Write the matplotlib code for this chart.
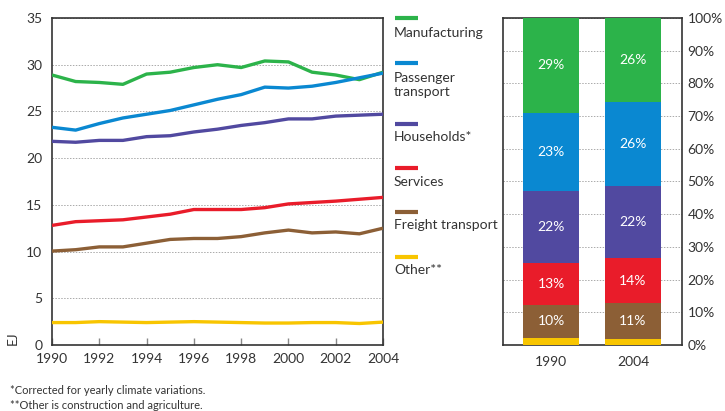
import numpy as np
import matplotlib.pyplot as plt
from matplotlib.ticker import MultipleLocator

plt.rcParams['font.family'] = ['Lato', 'DejaVu Sans']

years = list(range(1990, 2005))
sectors = ["Manufacturing", "Passenger\ntransport", "Households*", "Services",
           "Freight transport", "Other**"]
colors = ["#2cb34a", "#0a88d1", "#5149a0", "#e91c2a", "#8c5f36", "#f8c500"]

manufacturing = [28.9, 28.2, 28.1, 27.9, 29.0, 29.2, 29.7, 30.0, 29.7, 30.4, 30.3, 29.2, 28.9, 28.4, 29.2]
passenger = [23.3, 23.0, 23.7, 24.3, 24.7, 25.1, 25.7, 26.3, 26.8, 27.6, 27.5, 27.7, 28.1, 28.6, 29.1]
households = [21.8, 21.7, 21.9, 21.9, 22.3, 22.4, 22.8, 23.1, 23.5, 23.8, 24.2, 24.2, 24.5, 24.6, 24.7]
services = [12.8, 13.2, 13.3, 13.4, 13.7, 14.0, 14.5, 14.5, 14.5, 14.7, 15.1, 15.25, 15.4, 15.6, 15.8]
freight = [10.05, 10.2, 10.5, 10.5, 10.9, 11.3, 11.4, 11.4, 11.6, 12.0, 12.3, 12.0, 12.1, 11.9, 12.5]
other = [2.4, 2.4, 2.5, 2.45, 2.4, 2.45, 2.5, 2.45, 2.4, 2.35, 2.35, 2.4, 2.4, 2.3, 2.45]
series = [manufacturing, passenger, households, services, freight, other]

bar_years = ["1990", "2004"]
# shares bottom-up: other, freight, services, households, passenger, manufacturing
share_1990 = [2.2, 10.0, 13.0, 22.0, 23.8, 29.0]
share_2004 = [1.8, 10.9, 14.0, 21.9, 25.8, 25.6]
share_labels_1990 = ["", "10%", "13%", "22%", "23%", "29%"]
share_labels_2004 = ["", "11%", "14%", "22%", "26%", "26%"]

TXT = "#333333"
GRID = "#aaaaaa"
FS = 10

fig = plt.figure(figsize=(7.25, 4.11), dpi=100)

# ---- line chart ----
ax = fig.add_axes([0.0717, 0.1606, 0.4566, 0.7956])
for vals, c in zip(series, colors):
    ax.plot(years, vals, color=c, lw=2.4, solid_capstyle="butt", zorder=3)
ax.set_xlim(1990, 2004)
ax.set_ylim(0, 35)
ax.xaxis.set_major_locator(MultipleLocator(2))
ax.yaxis.set_major_locator(MultipleLocator(5))
ax.grid(axis="y", ls=(0, (1.5, 1.5)), color=GRID, lw=0.7)
ax.tick_params(axis="x", direction="in", length=5, width=1, color="#888888",
               labelsize=FS, labelcolor=TXT, pad=6)
ax.tick_params(axis="y", length=0, labelsize=FS, labelcolor=TXT, pad=7)
for s in ax.spines.values():
    s.set_color("#333333")
    s.set_linewidth(1.2)
ax.text(-0.12, 0.0, "EJ", transform=ax.transAxes, rotation=90, ha="center",
        va="bottom", fontsize=FS, color=TXT)

# legend (manual)
leg_y_line = [18, 63, 124, 168, 212, 257]
leg_y_text = [33, 85, 137, 182, 225, 270]
for name, c, yl, yt in zip(sectors, colors, leg_y_line, leg_y_text):
    fig.add_artist(plt.Line2D([395 / 725, 418 / 725], [1 - yl / 411] * 2,
                              color=c, lw=3, solid_capstyle="butt"))
    fig.text(394 / 725, 1 - yt / 411, name, ha="left", va="center",
             fontsize=FS, color=TXT, linespacing=1.3)

# ---- stacked bar ----
bx = fig.add_axes([0.6938, 0.1606, 0.2469, 0.7956])
xpos = np.arange(len(bar_years))
bottoms = np.zeros(len(bar_years))
stack_colors = colors[::-1]
for i in range(len(share_1990)):
    vals = np.array([share_1990[i], share_2004[i]])
    bx.bar(xpos, vals, bottom=bottoms, width=0.68, color=stack_colors[i], zorder=3)
    for j, lab in enumerate([share_labels_1990[i], share_labels_2004[i]]):
        if lab:
            bx.text(xpos[j], bottoms[j] + vals[j] / 2, lab, ha="center",
                    va="center", color="white", fontsize=FS, zorder=4)
    bottoms += vals
bx.set_xlim(-0.59, 1.6)
bx.set_ylim(0, 100)
bx.set_xticks(xpos)
bx.set_xticklabels(bar_years)
bx.yaxis.set_major_locator(MultipleLocator(10))
bx.yaxis.set_major_formatter(lambda v, p: f"{int(v)}%")
bx.yaxis.tick_right()
bx.grid(axis="y", ls=(0, (1.5, 1.5)), color=GRID, lw=0.7)
bx.tick_params(axis="both", length=0, labelsize=FS, labelcolor=TXT)
bx.tick_params(axis="y", pad=4)
bx.tick_params(axis="x", pad=8)
for s in bx.spines.values():
    s.set_color("#333333")
    s.set_linewidth(1.2)

fig.text(10 / 725, 1 - 390 / 411, "*Corrected for yearly climate variations.",
         fontsize=8, color=TXT, va="center")
fig.text(10 / 725, 1 - 405 / 411, "**Other is construction and agriculture.",
         fontsize=8, color=TXT, va="center")

fig.savefig("out.png", dpi=100, facecolor="white")
